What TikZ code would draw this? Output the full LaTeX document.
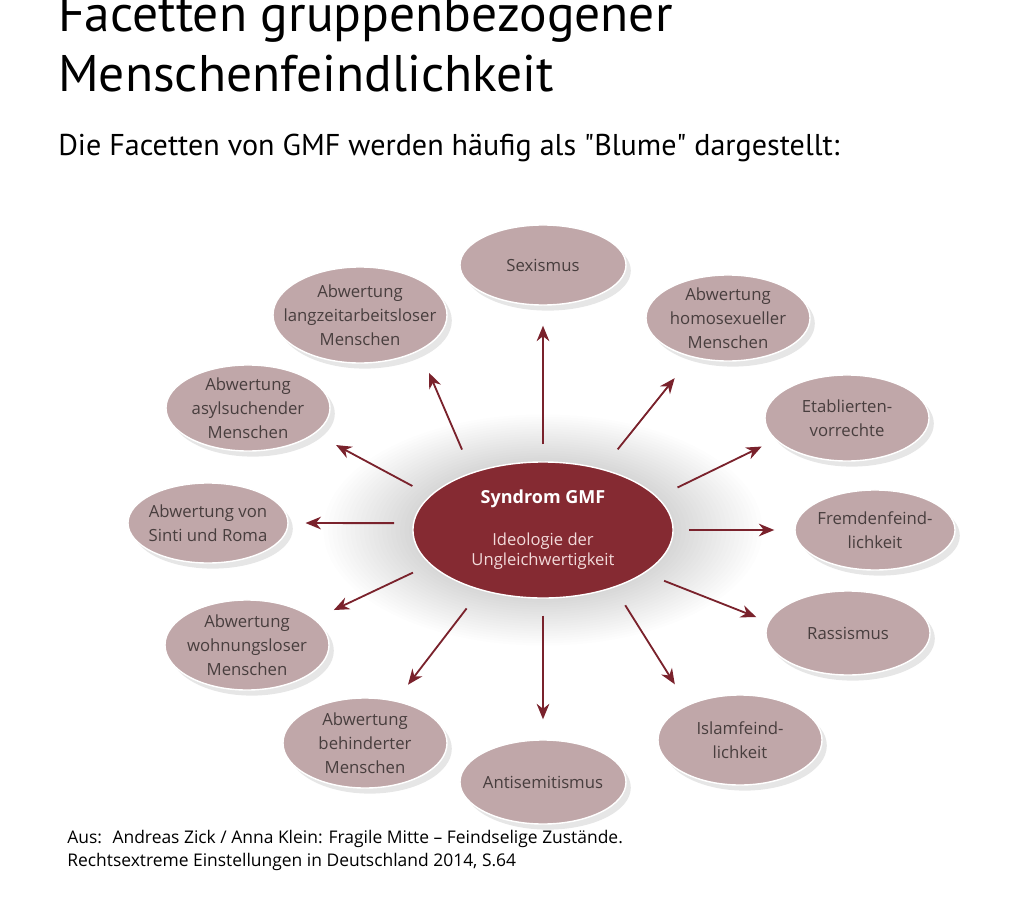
\documentclass[tikz,border=0pt]{standalone}
\usepackage{fontspec}
\setmainfont{PT Sans}
\newfontfamily\plainsans{PT Sans}[Ligatures=TeXOff]
\newfontfamily\diafont{Open Sans}
\usetikzlibrary{shapes,arrows.meta,shadows}
\usepackage{xcolor}

\definecolor{gmfred}{RGB}{133,42,50}
\definecolor{petalrose}{RGB}{192,167,169}
\definecolor{arrowred}{RGB}{122,34,44}
\definecolor{petaltext}{RGB}{72,62,62}
\definecolor{gmftext}{RGB}{242,218,218}

\begin{document}
\begin{tikzpicture}[x=0.025cm,y=-0.025cm]
      \tikzstyle{petal} = [ellipse, draw=white, line width=1pt, fill=petalrose, inner sep=0pt, minimum width=4.1cm, minimum height=2.15cm, drop shadow={opacity=0.2, shadow xshift=1.2mm, shadow yshift=-1.4mm}]
      \tikzstyle{ptext} = [align=center, text=petaltext, font=\diafont\fontsize{11.9}{17}\selectfont]
      \tikzstyle{arr} = [-{Stealth[length=11pt,width=9pt]}, line width=1.3pt, draw=arrowred]

      \useasboundingbox (0,0) rectangle (1032,920);

      % title and source
      \node[anchor=base west, inner sep=0pt, font=\fontsize{36.6}{44}\selectfont] (title1) at (58,32) {Facetten gruppenbezogener};
      \node[anchor=base west, inner sep=0pt, font=\fontsize{36.6}{44}\selectfont] (title2) at (58,92) {Menschenfeindlichkeit};
      \node[anchor=base west, inner sep=0pt, font=\plainsans\fontsize{21.4}{28}\selectfont] (sub) at (58,155) {Die Facetten von GMF werden häufig als "Blume" dargestellt:};
      \node[anchor=base west, inner sep=0pt, font=\diafont\fontsize{12.4}{16}\selectfont] (src1) at (67,843) {Aus:~ Andreas Zick / Anna Klein: Fragile Mitte – Feindselige Zustände.};
      \node[anchor=base west, inner sep=0pt, font=\diafont\fontsize{12.4}{16}\selectfont] (src2) at (67,866) {Rechtsextreme Einstellungen in Deutschland 2014, S.64};

      % grey glow round the centre
      \foreach \r in {0,...,19}
            \fill[black, opacity=0.008] (543,530) ellipse ({134+4.5*\r} and {70+2.4*\r});

      \node[ellipse, draw=white, line width=1pt, fill=gmfred, minimum width=6.5cm, minimum height=3.4cm, inner sep=0pt, align=center, text=gmftext, font=\diafont\fontsize{11.8}{14.5}\selectfont] (gmf) at (543,530)
            {{\color{white}\bfseries\fontsize{12.8}{14}\selectfont Syndrom GMF}\\[15pt]Ideologie der\\Ungleichwertigkeit};

      \node[petal, minimum width=4.15cm, minimum height=2.0cm, label={[ptext]center:Sexismus}] (sex) at (543,265) {};
      \node[petal, minimum width=4.35cm, minimum height=2.4cm, label={[ptext]center:Abwertung\\langzeitarbeitsloser\\Menschen}] (lang) at (360,315) {};
      \node[petal, label={[ptext]center:Abwertung\\homosexueller\\Menschen}] (homo) at (728,318) {};
      \node[petal, label={[ptext]center:Abwertung\\asylsuchender\\Menschen}] (asyl) at (248,408) {};
      \node[petal, label={[ptext]center:Etablierten-\\vorrechte}] (etab) at (847,418) {};
      \node[petal, minimum width=4.0cm, minimum height=2.0cm, label={[ptext]center:Abwertung von\\Sinti und Roma}] (sinti) at (208,523) {};
      \node[petal, minimum width=4.0cm, minimum height=2.0cm, label={[ptext]center:Fremdenfeind-\\lichkeit}] (fremd) at (875,530) {};
      \node[petal, minimum height=2.25cm, label={[ptext]center:Abwertung\\wohnungsloser\\Menschen}] (wohn) at (247,645) {};
      \node[petal, minimum height=2.1cm, label={[ptext]center:Rassismus}] (rass) at (848,633) {};
      \node[petal, minimum height=2.25cm, label={[ptext]center:Abwertung\\behinderter\\Menschen}] (behind) at (365,743) {};
      \node[petal, minimum height=2.25cm, label={[ptext]center:Islamfeind-\\lichkeit}] (islam) at (740,740) {};
      \node[petal, minimum width=4.15cm, minimum height=2.1cm, label={[ptext]center:Antisemitismus}] (anti) at (543,782) {};

      \draw[arr, shorten <=4.2mm, shorten >=5mm] (gmf.90) -- (sex.270);
      \draw[arr, shorten <=6.2mm, shorten >=6mm] (gmf.141) -- (lang.-31);
      \draw[arr, shorten <=6.2mm, shorten >=6.7mm] (gmf.46) -- (homo.227);
      \draw[arr, shorten <=5mm, shorten >=6mm] (gmf.163) -- (asyl.-21);
      \draw[arr, shorten <=5.5mm, shorten >=3.8mm] (gmf.16) -- (etab.197);
      \draw[arr, shorten <=4.7mm, shorten >=4.2mm] (gmf.177) -- (sinti.0);
      \draw[arr, shorten <=3.8mm, shorten >=5mm] (gmf.0) -- (fremd.180);
      \draw[arr, shorten <=4.7mm, shorten >=5.2mm] (gmf.197) -- (wohn.21);
      \draw[arr, shorten <=5.2mm, shorten >=3.2mm] (gmf.-23) -- (rass.172);
      \draw[arr, shorten <=5.7mm, shorten >=5mm] (gmf.224) -- (behind.54);
      \draw[arr, shorten <=5.2mm, shorten >=6mm] (gmf.-39) -- (islam.146);
      \draw[arr, shorten <=4.2mm, shorten >=5mm] (gmf.270) -- (anti.90);
\end{tikzpicture}
\end{document}
